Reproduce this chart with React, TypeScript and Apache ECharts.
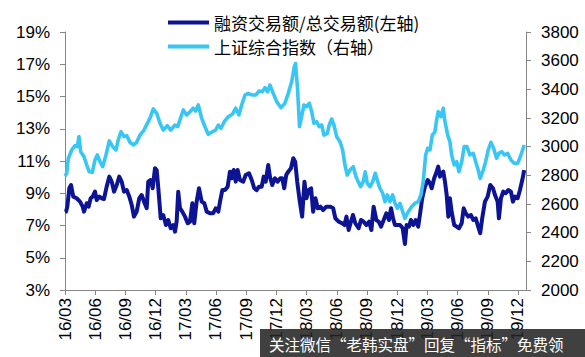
import React, { useEffect, useRef } from 'react';
import * as echarts from 'echarts';

// Legend names
const ratioName = '融资交易额/总交易额(左轴)';
const indexName = '上证综合指数（右轴）';

// x = months since 2016/03 (axis ticks every quarter)
const startYear = 2016;
const startMonth = 3;
const xMax = 45.8;

// 融资交易额/总交易额 (%), left axis
const ratioSeries: [number, number][] = [
  [0, 7.84], [0.1, 7.86], [0.23, 8.17], [0.43, 9.31], [0.6, 9.51], [0.82, 8.79], [1.16, 8.69], [1.49, 8.48],
  [1.76, 8.17], [1.89, 7.86], [2.16, 8.38], [2.35, 8.17], [2.55, 8.69], [2.75, 8.79], [2.98, 9.1], [3.15, 8.58],
  [3.41, 8.79], [3.65, 8.69], [3.87, 8.64], [4.14, 9.41], [4.4, 10.03], [4.64, 9.72], [4.87, 9.1], [5.14, 9.51],
  [5.39, 10.03], [5.63, 9.72], [5.86, 9.1], [6.13, 9.2], [6.39, 8.79], [6.63, 8.27], [6.85, 7.55], [7.12, 7.86],
  [7.38, 8.69], [7.62, 8.89], [7.85, 8.48], [8.12, 8.07], [8.27, 9.72], [8.51, 9.82], [8.71, 9.31], [8.94, 10.55],
  [9.11, 10.44], [9.27, 9.31], [9.51, 7.45], [9.76, 7.65], [10.03, 7.03], [10.26, 7.34], [10.5, 6.83], [10.76, 7.03],
  [10.93, 6.62], [11.09, 7.24], [11.25, 9.1], [11.42, 8.07], [11.65, 7.86], [11.92, 7.55], [12.19, 7.14], [12.42, 7.24],
  [12.65, 8.38], [12.84, 7.14], [13.08, 8.48], [13.31, 9.31], [13.58, 8.48], [13.84, 8.38], [14.08, 7.86], [14.4, 7.76],
  [14.73, 7.76], [14.97, 8.07], [15.23, 7.86], [15.4, 8.48], [15.63, 9.2], [15.89, 9.2], [16.16, 9.41], [16.39, 10.34],
  [16.56, 9.93], [16.76, 10.44], [16.96, 9.72], [17.15, 10.44], [17.38, 9.82], [17.71, 9.72], [17.95, 10.13], [18.28, 10.24],
  [18.55, 9.82], [18.8, 9.31], [19.04, 9.2], [19.27, 9.41], [19.54, 9.41], [19.74, 10.03], [19.94, 9.72], [20.19, 10.75],
  [20.36, 10.03], [20.59, 9.51], [20.86, 9.93], [21.13, 9.72], [21.39, 9.93], [21.59, 9.93], [21.78, 9.31], [21.98, 10.13],
  [22.18, 10.34], [22.45, 10.55], [22.68, 11.17], [22.87, 10.96], [23.07, 9.72], [23.33, 8.48], [23.56, 7.55], [23.79, 9.72],
  [23.99, 8.69], [24.21, 9.2], [24.45, 9.31], [24.65, 7.86], [24.88, 8.69], [25.11, 8.07], [25.38, 8.17], [25.64, 7.96],
  [25.97, 8.17], [26.37, 8.17], [26.64, 8.07], [26.86, 7.45], [27.19, 7.24], [27.53, 7.14], [27.76, 7.03], [27.96, 7.55],
  [28.18, 6.72], [28.41, 7.24], [28.61, 7.65], [28.84, 7.14], [29.17, 6.83], [29.41, 7.34], [29.67, 7.24], [29.94, 7.03],
  [30.21, 7.24], [30.44, 6.72], [30.66, 8.17], [30.93, 7.34], [31.16, 7.24], [31.4, 6.93], [31.66, 7.34], [31.93, 7.76],
  [32.19, 7.34], [32.39, 8.07], [32.59, 7.45], [32.78, 7.03], [33.01, 7.03], [33.28, 7.03], [33.55, 6.83], [33.77, 5.85],
  [33.94, 7.03], [34.17, 6.93], [34.37, 7.34], [34.6, 7.03], [34.84, 7.34], [35.09, 6.93], [35.26, 7.65], [35.49, 8.69],
  [35.76, 9.41], [36.03, 9.82], [36.26, 9.62], [36.43, 9.31], [36.68, 9.93], [36.92, 10.34], [37.08, 10.65], [37.25, 10.03],
  [37.42, 10.24], [37.58, 10.34], [37.75, 9.72], [37.92, 8.89], [38.08, 7.55], [38.24, 8.69], [38.41, 7.86], [38.67, 7.03],
  [38.91, 6.93], [39.14, 6.83], [39.41, 7.14], [39.61, 8.07], [39.81, 7.76], [40.06, 7.55], [40.33, 7.65], [40.56, 7.34],
  [40.8, 7.45], [41.05, 6.93], [41.25, 6.52], [41.45, 7.45], [41.72, 8.48], [41.99, 8.79], [42.25, 9.51], [42.52, 9.31],
  [42.72, 8.89], [42.98, 8.48], [43.11, 7.45], [43.31, 8.69], [43.54, 9.1], [43.78, 9.0], [44.04, 9.2], [44.3, 9.1],
  [44.5, 8.48], [44.7, 8.79], [44.97, 8.69], [45.2, 9.2], [45.43, 9.82], [45.62, 10.44],
];

// 上证综合指数, right axis
const indexSeries: [number, number][] = [
  [0, 2795], [0.17, 2814], [0.33, 2919], [0.67, 2977], [1.0, 3007], [1.22, 3000], [1.39, 3070], [1.56, 2965],
  [1.89, 2930], [2.16, 2872], [2.41, 2825], [2.71, 2821], [2.98, 2907], [3.21, 2942], [3.48, 2895], [3.74, 2860],
  [4.07, 2942], [4.4, 3040], [4.74, 3000], [5.07, 2977], [5.29, 3047], [5.56, 3104], [5.86, 3070], [6.13, 3077],
  [6.46, 3030], [6.78, 3012], [7.12, 3030], [7.45, 3081], [7.85, 3116], [8.18, 3163], [8.44, 3198], [8.77, 3263],
  [9.11, 3233], [9.44, 3163], [9.76, 3116], [10.16, 3146], [10.5, 3116], [10.93, 3151], [11.2, 3140], [11.52, 3209],
  [11.75, 3256], [12.09, 3221], [12.42, 3244], [12.74, 3268], [12.98, 3249], [13.24, 3291], [13.58, 3198], [13.91, 3139],
  [14.23, 3086], [14.63, 3104], [14.97, 3116], [15.23, 3151], [15.5, 3128], [15.82, 3174], [16.22, 3209], [16.62, 3226],
  [16.96, 3268], [17.28, 3221], [17.55, 3291], [17.88, 3360], [18.21, 3372], [18.61, 3360], [18.94, 3360], [19.27, 3388],
  [19.6, 3383], [19.87, 3411], [20.13, 3383], [20.36, 3430], [20.69, 3372], [21.03, 3314], [21.46, 3272], [21.85, 3303],
  [22.18, 3372], [22.52, 3453], [22.78, 3558], [22.9, 3580], [23.1, 3407], [23.3, 3139], [23.54, 3221], [23.74, 3291],
  [24.01, 3279], [24.27, 3303], [24.51, 3244], [24.73, 3163], [25.0, 3174], [25.26, 3139], [25.5, 3151], [25.73, 3081],
  [26.06, 3093], [26.25, 3151], [26.49, 3193], [26.72, 3151], [26.99, 3070], [27.32, 3035], [27.58, 2977], [27.81, 2872],
  [28.04, 2802], [28.31, 2837], [28.64, 2860], [28.91, 2790], [29.13, 2756], [29.37, 2721], [29.63, 2756], [29.83, 2825],
  [30.03, 2744], [30.3, 2721], [30.57, 2756], [30.82, 2814], [31.02, 2767], [31.29, 2710], [31.56, 2675], [31.79, 2616],
  [32.02, 2663], [32.28, 2616], [32.55, 2663], [32.78, 2605], [33.01, 2570], [33.28, 2605], [33.55, 2546], [33.77, 2500],
  [34.1, 2546], [34.44, 2581], [34.77, 2605], [35.09, 2616], [35.36, 2663], [35.59, 2756], [35.83, 2942], [36.03, 2989],
  [36.26, 2977], [36.49, 3081], [36.75, 3104], [36.92, 3186], [37.08, 3244], [37.35, 3209], [37.58, 3268], [37.75, 3174],
  [38.02, 3081], [38.24, 3035], [38.41, 2942], [38.67, 2872], [38.91, 2895], [39.14, 2825], [39.41, 2895], [39.66, 3000],
  [39.93, 3000], [40.23, 2942], [40.56, 2954], [40.8, 2895], [41.05, 2837], [41.25, 2779], [41.55, 2837], [41.79, 2895],
  [42.05, 2977], [42.32, 3030], [42.58, 2989], [42.88, 2919], [43.11, 2954], [43.38, 2965], [43.64, 2942], [43.97, 2954],
  [44.3, 2907], [44.63, 2884], [44.97, 2884], [45.3, 2942], [45.62, 3012],
];

const watermark = '关注微信“老韩实盘”回复“指标”免费领';

const darkBlue = '#0C1494';
const lightBlue = '#38C6F4';
const axisGray = '#868686';
const latin = '"Liberation Sans", Arial, sans-serif';
const cjk = '"Noto Sans CJK SC", sans-serif';

function monthLabel(v: number): string {
  const r = Math.round(v);
  if (Math.abs(v - r) > 1e-6 || r % 3 !== 0) return '';
  const t = startYear * 12 + (startMonth - 1) + r;
  const yy = Math.floor(t / 12) % 100;
  const mm = (t % 12) + 1;
  return `${String(yy).padStart(2, '0')}/${String(mm).padStart(2, '0')}`;
}

export default function App() {
  const ref = useRef<HTMLDivElement>(null);
  useEffect(() => {
    if (!ref.current) return;
    const chart = echarts.init(ref.current, null, { renderer: 'svg' });
    const legendBase = {
      left: 168,
      itemWidth: 41,
      itemHeight: 4,
      icon: 'rect',
      itemGap: 0,
      padding: 0,
      textStyle: { fontSize: 17, fontFamily: cjk, color: '#000' },
    };
    chart.setOption({
      animation: false,
      backgroundColor: '#fff',
      grid: { left: 65, right: 59, top: 32, bottom: 67 },
      legend: [
        { ...legendBase, top: 14, data: [ratioName] },
        { ...legendBase, top: 38, data: [indexName] },
      ],
      xAxis: {
        type: 'value',
        min: 0,
        max: xMax,
        interval: 3,
        splitLine: { show: false },
        axisLine: { show: true, lineStyle: { color: axisGray, width: 1 } },
        axisTick: { show: true, length: 5, lineStyle: { color: axisGray } },
        axisLabel: {
          rotate: 90,
          margin: 8,
          fontSize: 17,
          fontFamily: latin,
          color: '#000',
          formatter: monthLabel,
          showMaxLabel: false,
        },
      },
      yAxis: [
        {
          type: 'value',
          min: 3,
          max: 19,
          interval: 2,
          position: 'left',
          splitLine: { show: false },
          axisLine: { show: true, lineStyle: { color: axisGray, width: 1 } },
          axisTick: { show: true, length: 5, lineStyle: { color: axisGray } },
          axisLabel: { margin: 15, fontSize: 17, fontFamily: latin, color: '#000', formatter: '{value}%' },
        },
        {
          type: 'value',
          min: 2000,
          max: 3800,
          interval: 200,
          position: 'right',
          splitLine: { show: false },
          axisLine: { show: true, lineStyle: { color: axisGray, width: 1 } },
          axisTick: { show: true, length: 5, lineStyle: { color: axisGray } },
          axisLabel: {
            margin: 15,
            fontSize: 17,
            fontFamily: latin,
            color: '#000',
            formatter: (v: number) => String(v),
          },
        },
      ],
      series: [
        {
          name: ratioName,
          type: 'line',
          yAxisIndex: 0,
          data: ratioSeries,
          showSymbol: false,
          color: darkBlue,
          lineStyle: { color: darkBlue, width: 4, join: 'round' },
        },
        {
          name: indexName,
          type: 'line',
          yAxisIndex: 1,
          data: indexSeries,
          showSymbol: false,
          color: lightBlue,
          lineStyle: { color: lightBlue, width: 3.6, join: 'round' },
        },
      ],
      graphic: [
        {
          type: 'rect',
          shape: { x: 260, y: 329, width: 325, height: 28 },
          style: { fill: 'rgba(38,38,38,0.88)' },
          z: 100,
        },
        {
          type: 'text',
          x: 269,
          y: 344,
          z: 101,
          style: {
            text: watermark,
            fill: '#fff',
            fontSize: 15.5,
            fontFamily: cjk,
            verticalAlign: 'middle',
          },
        },
      ],
    });
    return () => chart.dispose();
  }, []);
  return (
    <div
      ref={ref}
      style={{ position: 'fixed', left: 0, top: 0, width: 585, height: 357, background: '#fff' }}
    />
  );
}
